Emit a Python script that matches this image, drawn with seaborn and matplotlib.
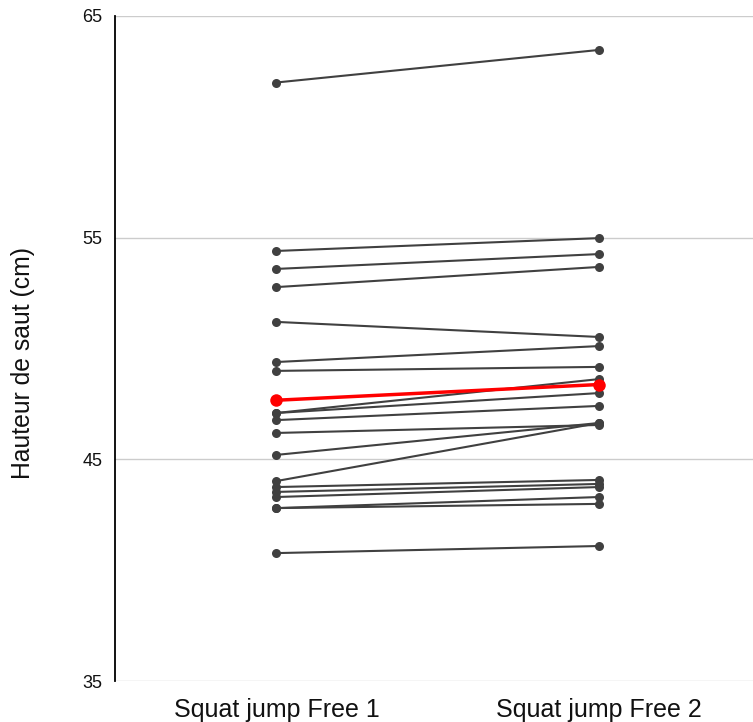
#!/usr/bin/env python3
"""Paired squat jump heights (Free 1 vs Free 2) with group mean in red."""
import numpy as np
import pandas as pd
import matplotlib
matplotlib.use("Agg")
import matplotlib.pyplot as plt
import seaborn as sns

sessions = ["Squat jump Free 1", "Squat jump Free 2"]
free1 = [62.0, 54.4, 53.59, 52.77, 51.2, 49.39, 48.99, 47.09, 47.09, 46.77,
         46.19, 45.2, 44.02, 43.75, 43.53, 43.3, 42.8, 42.8, 40.77]
free2 = [63.47, 54.98, 54.26, 53.68, 50.52, 50.11, 49.17, 48.62, 47.99, 47.41,
         46.55, 46.64, 46.64, 44.07, 43.89, 43.75, 43.3, 42.99, 41.09]
y_ticks = [35, 45, 55, 65]

subjects = np.arange(len(free1))
df = pd.DataFrame({
    "subject": np.concatenate([subjects, subjects]),
    "session": [sessions[0]] * len(free1) + [sessions[1]] * len(free2),
    "height": free1 + free2,
})
df["pos"] = df["session"].map({s: i for i, s in enumerate(sessions)})
mean_df = df.groupby("pos", as_index=False)["height"].mean()

sns.set_theme(style="white")
plt.rcParams["font.family"] = ["Liberation Sans", "DejaVu Sans"]

fig = plt.figure(figsize=(7.53, 7.22), dpi=100)
ax = fig.add_axes([115 / 753, 41 / 722, 645.5 / 753, 665 / 722])

for y in y_ticks:
    ax.axhline(y, color="#cccccc", linewidth=1, zorder=0)

sns.lineplot(data=df, x="pos", y="height", units="subject", estimator=None,
             color="#404040", linewidth=1.5, marker="o", markersize=6.5,
             markeredgewidth=0, ax=ax, zorder=2)
sns.lineplot(data=mean_df, x="pos", y="height", color="#ff0000",
             linewidth=2.5, marker="o", markersize=9, markeredgewidth=0,
             ax=ax, zorder=3)

ax.set_xlim(-0.5, 1.5)
ax.set_ylim(35, 65)
ax.set_xticks([0, 1])
ax.set_xticklabels(sessions, fontsize=18, color="#111111")
ax.set_yticks(y_ticks)
ax.set_yticklabels([str(t) for t in y_ticks], fontsize=13, color="#111111")
ax.tick_params(axis="x", length=0, pad=12)
ax.tick_params(axis="y", length=0, pad=9)
ax.set_xlabel("")
ax.set_ylabel("Hauteur de saut (cm)", fontsize=17.8, color="#111111")
ax.yaxis.set_label_coords(-0.124, 0.478)
for side in ["top", "right", "bottom"]:
    ax.spines[side].set_visible(False)
ax.spines["left"].set_color("black")
ax.spines["left"].set_linewidth(1.3)

fig.savefig("out.png", dpi=100)
